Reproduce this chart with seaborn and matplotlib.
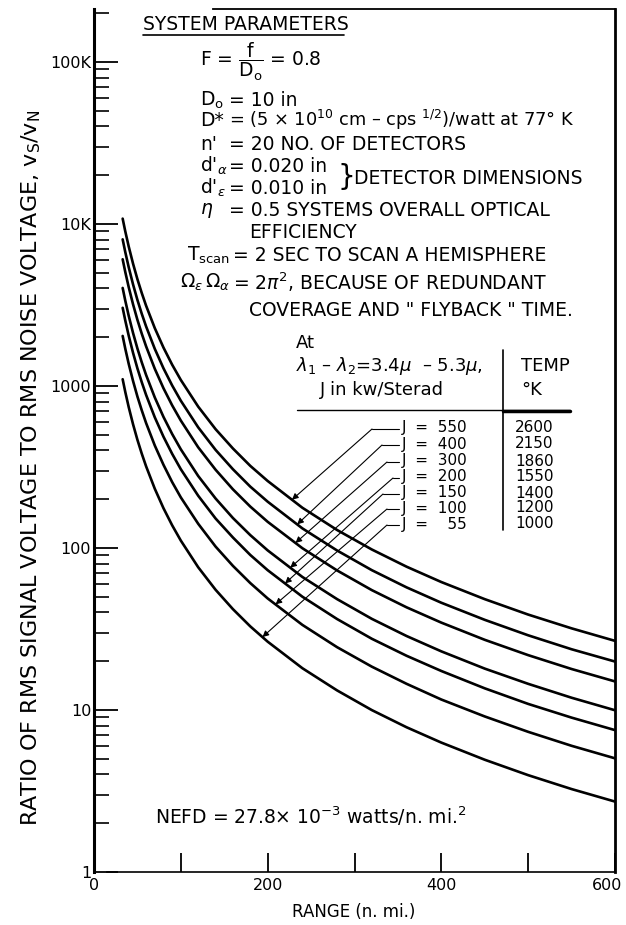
import numpy as np
import pandas as pd
import matplotlib
matplotlib.use("Agg")
import matplotlib.pyplot as plt
import seaborn as sns
from matplotlib.lines import Line2D
from matplotlib.transforms import ScaledTranslation
from matplotlib.ticker import FixedLocator, LogLocator, NullFormatter

# ---------------- data ----------------
range_nmi = [33, 36, 40, 45, 50, 55, 60, 70, 80, 90, 100, 120, 140, 160, 180,
             200, 240, 280, 320, 360, 400, 450, 500, 550, 600]

snr_J550 = [10780, 9006, 7242, 5674, 4557, 3744, 3126, 2274, 1725, 1352, 1088, 745, 541,
            411, 321, 259, 177, 129, 97.8, 76.6, 61.6, 48.3, 38.8, 31.9, 26.7]
snr_J400 = [8030, 6709, 5395, 4227, 3395, 2789, 2329, 1694, 1285, 1007, 810, 555, 403,
            306, 239, 193, 132, 96.4, 72.9, 57.1, 45.9, 36.0, 28.9, 23.7, 19.9]
snr_J300 = [6050, 5055, 4065, 3185, 2558, 2101, 1755, 1276, 968, 759, 611, 418, 304,
            230, 180, 145, 99.6, 72.6, 54.9, 43.0, 34.6, 27.1, 21.8, 17.9, 15.0]
snr_J200 = [4026, 3364, 2705, 2119, 1702, 1398, 1168, 849, 644, 505, 406, 278, 202,
            153, 120, 96.6, 66.2, 48.3, 36.5, 28.6, 23.0, 18.0, 14.5, 11.9, 9.96]
snr_J150 = [3036, 2536, 2040, 1598, 1283, 1054, 880, 640, 486, 381, 306, 210, 152,
            116, 90.5, 72.9, 50.0, 36.4, 27.5, 21.6, 17.4, 13.6, 10.9, 8.97, 7.51]
snr_J100 = [2035, 1700, 1367, 1071, 860, 707, 590, 429, 326, 255, 205, 141, 102,
            77.5, 60.7, 48.8, 33.5, 24.4, 18.5, 14.5, 11.6, 9.12, 7.33, 6.01, 5.03]
snr_J55 = [1100, 919, 739, 579, 465, 382, 319, 232, 176, 138, 111, 76, 55.2,
           41.9, 32.8, 26.4, 18.1, 13.2, 9.98, 7.82, 6.29, 4.93, 3.96, 3.25, 2.72]

J_values = [550, 400, 300, 200, 150, 100, 55]
J_labels = ["J  =  550", "J  =  400", "J  =  300", "J  =  200", "J  =  150", "J  =  100", "J  =    55"]
temps_K = ["2600", "2150", "1860", "1550", "1400", "1200", "1000"]

x_ticks = [0, 100, 200, 300, 400, 500, 600]
x_tick_labels = ["0", "", "200", "", "400", "", "600"]
y_ticks = [1, 10, 100, 1000, 10000, 100000]
y_tick_labels = ["1", "10", "100", "1000", "10K", "100K"]

series = [snr_J550, snr_J400, snr_J300, snr_J200, snr_J150, snr_J100, snr_J55]
df = pd.concat([pd.DataFrame({"range": range_nmi, "snr": s, "J": j})
                for s, j in zip(series, J_values)], ignore_index=True)

# ---------------- layout ----------------
sns.set_theme(style="ticks")
plt.rcParams["font.family"] = ["DejaVu Sans"]
plt.rcParams["mathtext.fontset"] = "dejavusans"

W, H = 626, 925
fig = plt.figure(figsize=(W / 100, H / 100), dpi=100)
fig.patch.set_facecolor("white")
ax = fig.add_axes([94 / W, 1 - 872 / H, (615 - 94) / W, (872 - 9) / H])
ax.set_facecolor("white")

for j in J_values:
    sns.lineplot(data=df[df["J"] == j], x="range", y="snr", color="black",
                 linewidth=1.9, ax=ax, legend=False, sort=True)

ax.set_yscale("log")
ax.set_xlim(0, 600)
ax.set_ylim(1, 2.12e5)
ax.set_xlabel("")
ax.set_ylabel("")

# ticks
ax.xaxis.set_major_locator(FixedLocator(x_ticks))
ax.set_xticklabels(x_tick_labels)
ax.yaxis.set_major_locator(FixedLocator(y_ticks))
ax.set_yticklabels(y_tick_labels)
ax.yaxis.set_minor_locator(LogLocator(base=10, subs=np.arange(2, 10), numticks=20))
ax.yaxis.set_minor_formatter(NullFormatter())
ax.tick_params(axis="x", which="major", direction="in", length=14, width=1.3,
               labelsize=11.5, pad=4, colors="black")
ax.tick_params(axis="y", which="major", direction="in", length=17, width=1.3,
               labelsize=11.5, pad=2, colors="black")
ax.tick_params(axis="y", which="minor", direction="in", length=11, width=1.2,
               colors="black")
last = ax.get_xticklabels()[-1]
last.set_transform(last.get_transform() + ScaledTranslation(-0.08, 0, fig.dpi_scale_trans))

# spines
ax.spines["left"].set_linewidth(2.2)
ax.spines["right"].set_linewidth(2.0)
ax.spines["top"].set_linewidth(1.3)
ax.spines["bottom"].set_linewidth(1.2)
for s in ax.spines.values():
    s.set_color("black")
ax.spines["top"].set_bounds(137, 600)
ax.spines["bottom"].set_bounds(15, 600)


def ftext(px, py, s, **kw):
    kw.setdefault("va", "center")
    kw.setdefault("ha", "left")
    kw.setdefault("color", "black")
    return fig.text(px / W, 1 - py / H, s, **kw)


def fline(x1, y1, x2, y2, lw=1.0):
    fig.add_artist(Line2D([x1 / W, x2 / W], [1 - y1 / H, 1 - y2 / H],
                          transform=fig.transFigure, color="black", lw=lw))


# axis titles
ftext(31, 468, r"RATIO OF RMS SIGNAL VOLTAGE TO RMS NOISE VOLTAGE, v$_\mathrm{S}$/v$_\mathrm{N}$",
      rotation=90, ha="center", fontsize=16)
ftext(354, 912, "RANGE (n. mi.)", ha="center", fontsize=12)

# system parameters block
fs = 13.5
eq = 229
ftext(143, 25, "SYSTEM PARAMETERS", fontsize=fs)
fline(143, 35, 344, 35, lw=1.2)
ftext(200, 62, r"F = $\dfrac{\mathrm{f}}{\mathrm{D_o}}$ = 0.8", fontsize=fs)
ftext(200, 100, r"D$_\mathrm{o}$", fontsize=fs)
ftext(eq, 100, "= 10 in", fontsize=fs)
ftext(200, 120, "D*", fontsize=fs)
ftext(eq, 120, r"= (5 × 10$^{10}$ cm – cps $^{1/2}$)/watt at 77° K", fontsize=12.8)
ftext(200, 145, "n'", fontsize=fs)
ftext(eq, 145, "= 20 NO. OF DETECTORS", fontsize=fs)
ftext(200, 166, r"d$'_\alpha$", fontsize=fs)
ftext(eq, 166, "= 0.020 in", fontsize=fs)
ftext(200, 188, r"d$'_\epsilon$", fontsize=fs)
ftext(eq, 188, "= 0.010 in", fontsize=fs)
ftext(337, 177, "}", fontsize=20)
ftext(354, 178, "DETECTOR DIMENSIONS", fontsize=fs)
ftext(200, 210, r"$\eta$", fontsize=fs)
ftext(eq, 210, "= 0.5 SYSTEMS OVERALL OPTICAL", fontsize=fs)
ftext(249, 232, "EFFICIENCY", fontsize=fs)
ftext(230, 255, r"T$_\mathrm{scan}$", ha="right", fontsize=fs)
ftext(233, 255, "= 2 SEC TO SCAN A HEMISPHERE", fontsize=fs)
ftext(230, 282, r"$\Omega_\epsilon\,\Omega_\alpha$", ha="right", fontsize=fs)
ftext(233, 282, r"= 2$\pi^2$, BECAUSE OF REDUNDANT", fontsize=fs)
ftext(249, 310, 'COVERAGE AND " FLYBACK " TIME.', fontsize=fs)

# table
ft = 13
ftext(296, 343, "At", fontsize=ft)
ftext(296, 366, r"$\lambda_1$ – $\lambda_2$=3.4$\mu$  – 5.3$\mu$,", fontsize=ft)
ftext(320, 390, "J in kw/Sterad", fontsize=ft)
ftext(521, 366, "TEMP", fontsize=ft)
ftext(521, 390, "°K", fontsize=ft)
fline(503, 350, 503, 530, lw=1.2)
fline(297, 410, 570, 410, lw=1.0)
fline(503, 411, 570, 411, lw=2.5)

label_y = [428, 444, 461, 477, 493, 508, 524]
elbow_x = [372, 382, 387, 393, 383, 387, 387]
tip_x = [228, 234, 232, 226, 220, 209, 194]
for lab, t, ly, ex, tx, s in zip(J_labels, temps_K, label_y, elbow_x, tip_x, series):
    ftext(402, ly, lab, fontsize=11)
    ftext(515, ly, t, fontsize=11)
    fline(ex, ly + 1, 399, ly + 1, lw=0.8)
    ty = 10 ** np.interp(tx, range_nmi, np.log10(s))
    ax.annotate("", xy=(tx, ty), xycoords="data",
                xytext=(ex, H - ly - 1), textcoords="figure pixels",
                arrowprops=dict(arrowstyle="-|>", color="black", lw=0.8,
                                mutation_scale=9, shrinkA=0, shrinkB=0))

ftext(155, 816, r"NEFD = 27.8× 10$^{-3}$ watts/n. mi.$^2$", fontsize=13.5)

fig.savefig("out.png", dpi=100, facecolor="white")
